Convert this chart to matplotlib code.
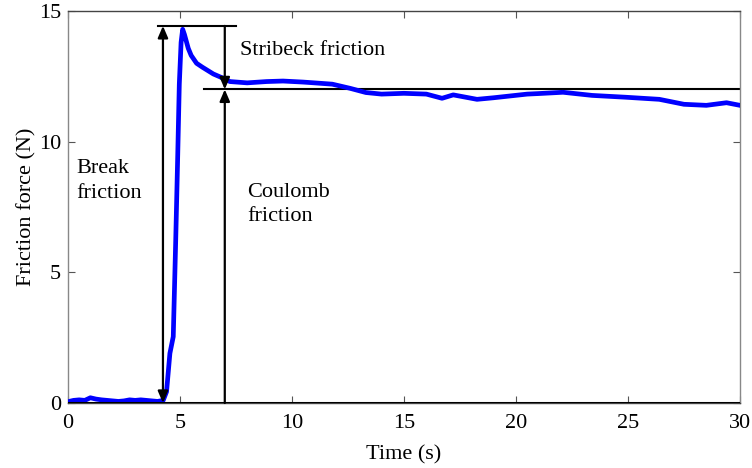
import numpy as np
import matplotlib
matplotlib.use("Agg")
import matplotlib.pyplot as plt

plt.rcParams["font.family"] = ["Liberation Serif", "DejaVu Serif"]

time_s = [0.0, 0.25, 0.5, 0.75, 1.0, 1.25, 1.5, 1.75, 2.0, 2.25, 2.5, 2.75,
          3.0, 3.25, 3.5, 3.75, 4.0, 4.25, 4.4, 4.55, 4.7, 4.81, 4.9, 4.97,
          5.05, 5.12, 5.2, 5.37, 5.5, 5.74, 6.0, 6.49, 7.0, 7.23, 8.0, 8.87,
          9.6, 10.5, 11.0, 11.8, 12.6, 13.3, 14.0, 15.0, 16.0, 16.7, 17.2,
          18.26, 19.0, 20.5, 21.0, 22.1, 23.4, 24.9, 26.4, 27.5, 28.5, 29.4, 30.0]
force_n = [0.05, 0.1, 0.12, 0.1, 0.2, 0.15, 0.12, 0.1, 0.08, 0.06, 0.08, 0.12,
           0.1, 0.12, 0.1, 0.08, 0.06, 0.1, 0.43, 1.9, 2.54, 6.24, 9.5, 12.2,
           13.8, 14.3, 14.1, 13.57, 13.3, 13.0, 12.85, 12.59, 12.4, 12.3, 12.25, 12.3,
           12.32, 12.28, 12.25, 12.2, 12.04, 11.88, 11.82, 11.85, 11.82, 11.66, 11.79,
           11.62, 11.68, 11.82, 11.84, 11.89, 11.77, 11.7, 11.62, 11.43, 11.39, 11.49, 11.39]

break_level = 14.43
coulomb_level = 12.0
break_t = 4.24
coulomb_t = 7.0

fig = plt.figure(figsize=(7.52, 4.68), dpi=100)
ax = fig.add_axes([0.0904, 0.1389, 0.8936, 0.8376])

ax.plot(time_s, force_n, color="#0000ff", linewidth=3.4, zorder=3)

# zero line and reference levels
ax.axhline(0, color="black", linewidth=2.2, zorder=4)
ax.plot([4.02, 7.5], [break_level, break_level], color="black", linewidth=1.5)
ax.plot([6.07, 30], [coulomb_level, coulomb_level], color="black", linewidth=1.5)

arrow_kw = dict(color="black", linewidth=1.6, shrinkA=0, shrinkB=0)
ax.annotate("", xy=(break_t, 0), xytext=(break_t, break_level),
            arrowprops=dict(arrowstyle="<|-|>,head_length=0.7,head_width=0.3", **arrow_kw))
ax.annotate("", xy=(coulomb_t, coulomb_level), xytext=(coulomb_t, 0),
            arrowprops=dict(arrowstyle="-|>,head_length=0.7,head_width=0.3", **arrow_kw))
ax.annotate("", xy=(coulomb_t, coulomb_level), xytext=(coulomb_t, break_level),
            arrowprops=dict(arrowstyle="-|>,head_length=0.7,head_width=0.3", **arrow_kw))

ax.text(7.68, 13.5, "Stribeck friction", fontsize=16, va="center", ha="left")
ax.text(0.36, 8.5, "Break\nfriction", fontsize=16, va="center", ha="left",
        linespacing=1.4)
ax.text(8.0, 7.6, "Coulomb\nfriction", fontsize=16, va="center", ha="left",
        linespacing=1.4)

ax.set_xlim(0, 30)
ax.set_ylim(0, 15)
ax.set_xticks([0, 5, 10, 15, 20, 25, 30])
ax.set_yticks([0, 5, 10, 15])
ax.tick_params(direction="in", length=5, width=0.8, color="#555555",
               labelsize=16, top=True, right=True)
ax.tick_params(axis="x", pad=8)
ax.tick_params(axis="y", pad=5)
for side, sp in ax.spines.items():
    sp.set_color("#888888" if side in ("left", "right") else "#444444")
    sp.set_linewidth(1.0)

ax.set_xlabel("Time (s)", fontsize=16, labelpad=9)
ax.set_ylabel("Friction force (N)", fontsize=16, labelpad=2)

fig.savefig("out.png", dpi=100)
